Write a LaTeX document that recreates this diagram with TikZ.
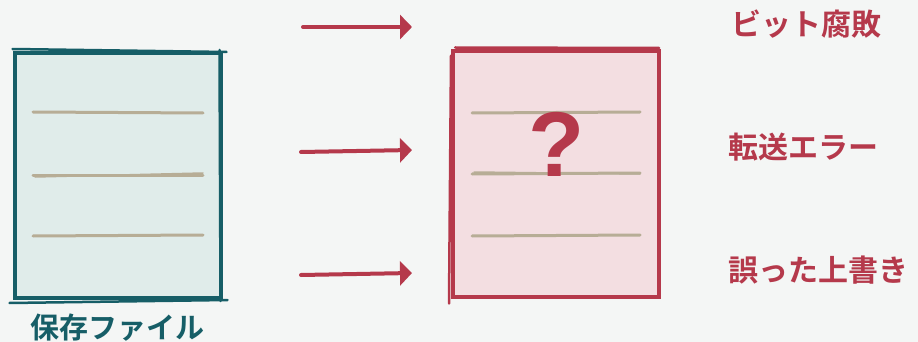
\documentclass[tikz,border=0pt]{standalone}
\usepackage{fontspec}
\newfontfamily\jpfont[BoldFont=Noto Sans CJK JP Bold]{Noto Sans CJK JP}
\newfontfamily\qfont{Liberation Sans}
\usetikzlibrary{arrows.meta,positioning,calc}

\definecolor{paper}{RGB}{244,246,245}
\definecolor{okline}{RGB}{22,94,103}
\definecolor{okfill}{RGB}{224,236,234}
\definecolor{badline}{RGB}{181,57,75}
\definecolor{badfill}{RGB}{243,222,225}
\definecolor{rulecol}{RGB}{183,173,150}

\tikzset{
  page/.style={line width=4pt, inner sep=0pt, minimum width=206pt, minimum height=245pt},
  okpage/.style={page, draw=okline, fill=okfill},
  badpage/.style={page, draw=badline, fill=badfill},
  textline/.style={draw=rulecol, line width=3pt, line cap=round},
  hit/.style={draw=badline, line width=4pt, line cap=round, -{Triangle[length=12pt,width=24pt]}},
  cause/.style={text=badline, inner sep=0pt, anchor=west, font=\jpfont\bfseries\fontsize{30}{36}\selectfont},
}

\begin{document}
\begin{tikzpicture}[x=1pt,y=-1pt]
\fill[paper] (0,0) rectangle (918,342);
\useasboundingbox (0,0) rectangle (918,342);

% stored file
\node[okpage] (stored) at (117.5,175.5) {};
\draw[okline, line width=2.5pt, line cap=round] ($(stored.north east)+(-3,-1)$) -- ($(stored.south east)+(-2,1)$);
\draw[okline, line width=2.5pt, line cap=round] ($(stored.north west)+(0,-2)$) -- ($(stored.north east)+(4,1)$);
\draw[okline, line width=2.5pt, line cap=round] ($(stored.south west)+(-3,3)$) -- ($(stored.south east)+(5,0)$);
\foreach \y/\d in {112/0,175/1,236/2}
  \draw[textline] (33,\y) -- (203,\y-\d+1);
\draw[textline, line width=1.5pt] (35,177) -- (203,173);
\node[text=okline, font=\jpfont\bfseries\fontsize{29}{34}\selectfont, below=10pt of stored] (storedlabel) {保存ファイル};

% damaged file
\node[badpage] (damaged) at (556,174) {};
\draw[badline, line width=2.5pt, line cap=round] ($(damaged.north west)+(4,-2)$) -- ($(damaged.north east)+(-2,-1.5)$);
\draw[badline, line width=2.5pt, line cap=round] ($(damaged.south west)+(-2,5)$) -- ($(damaged.north west)+(0,6)$);
\foreach \y in {113,174,236}
  \draw[textline] (472,\y) -- (640,\y-1);
\draw[textline, line width=1.5pt] (474,172) -- (640,174);
\node[text=badline, font=\qfont\bfseries\fontsize{92}{100}\selectfont] (what) at (557,144) {?};

% causes
\coordinate (s1) at (303,27);  \coordinate (e1) at (412,27);
\coordinate (s2) at (301,152); \coordinate (e2) at (412,150);
\coordinate (s3) at (301,275); \coordinate (e3) at (412,273);
\draw[hit] (s1) -- (e1);
\draw[hit] (s2) -- (e2);
\draw[hit] (s3) -- (e3);

\node[cause] (rot) at (731,24) {ビット腐敗};
\node[cause] (xfer) at (728,147) {転送エラー};
\node[cause] (over) at (728,270) {誤った上書き};
\end{tikzpicture}
\end{document}
